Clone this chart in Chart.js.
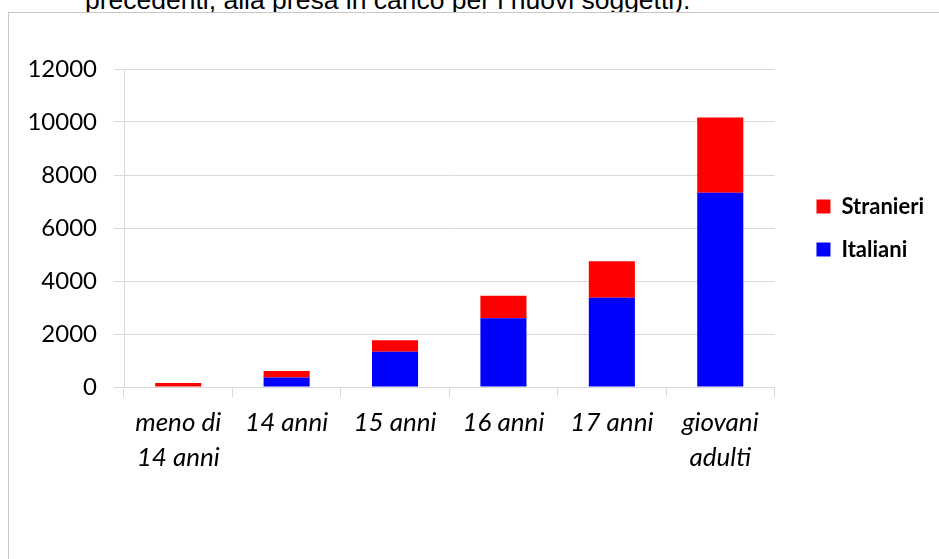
<!DOCTYPE html>
<html>
<head>
<meta charset="utf-8">
<script src="https://cdn.jsdelivr.net/npm/chart.js@4"></script>
<style>
    html, body { margin: 0; padding: 0; background: #fff; overflow: hidden; }
    #note {
        position: absolute; left: 85px; top: -13px; z-index: 0;
        font-family: "Liberation Sans", Arial, sans-serif; font-size: 26.5px;
        line-height: 1; color: #000; white-space: nowrap;
    }
    #frame {
        position: absolute; left: 8px; top: 12px; width: 960px; height: 580px; z-index: 1;
        background: #fff; border-left: 1px solid #c6c6c6; border-top: 1px solid #c6c6c6;
    }
    #chart { position: absolute; left: 0; top: 0; z-index: 2; }
</style>
</head>
<body>
<div id="note">precedenti, alla presa in carico per i nuovi soggetti).</div>
<div id="frame"></div>
<canvas id="chart" width="939" height="559"></canvas>
<script>
// Chart data
const categories = [['meno di', '14 anni'], '14 anni', '15 anni', '16 anni', '17 anni', ['giovani', 'adulti']];
const italiani = [0, 360, 1330, 2590, 3370, 7330];
const stranieri = [150, 240, 430, 850, 1380, 2840];
const yTicks = [0, 2000, 4000, 6000, 8000, 10000, 12000];

const gridColor = '#d9d9d9';

document.addEventListener('DOMContentLoaded', function() {
    const ctx = document.getElementById('chart').getContext('2d');
    new Chart(ctx, {
        type: 'bar',
        data: {
            labels: categories,
            datasets: [
                {
                    label: 'Italiani',
                    data: italiani,
                    backgroundColor: '#0000ff',
                    categoryPercentage: 1,
                    barPercentage: 0.425,
                },
                {
                    label: 'Stranieri',
                    data: stranieri,
                    backgroundColor: '#ff0000',
                    categoryPercentage: 1,
                    barPercentage: 0.425,
                },
            ],
        },
        options: {
            responsive: false,
            animation: false,
            layout: { padding: { left: 0, top: 69, right: 5, bottom: 0 } },
            scales: {
                x: {
                    stacked: true,
                    grid: { color: gridColor, drawOnChartArea: false, drawTicks: true, tickLength: 10, offset: true },
                    border: { color: gridColor },
                    ticks: {
                        color: '#000',
                        padding: 8,
                        maxRotation: 0,
                        font: { family: 'Lato', size: 26, style: 'italic', lineHeight: 35 / 26 },
                    },
                    afterFit: s => { s.height = 172; },
                },
                y: {
                    stacked: true,
                    min: 0,
                    max: 12000,
                    afterBuildTicks: s => { s.ticks = yTicks.map(v => ({ value: v })); },
                    grid: { color: gridColor, tickLength: 10 },
                    border: { color: gridColor },
                    ticks: {
                        color: '#000',
                        padding: 17,
                        font: { family: 'Lato', size: 24 },
                        callback: v => String(v),
                    },
                    afterFit: s => { s.width = 124; },
                },
                // empty spacer between plot and legend
                y2: {
                    position: 'right',
                    display: true,
                    grid: { drawOnChartArea: false, drawTicks: false },
                    border: { display: false },
                    ticks: { display: false },
                    afterFit: s => { s.width = 21; },
                },
            },
            plugins: {
                tooltip: { enabled: false },
                legend: {
                    position: 'right',
                    fullSize: false,
                    reverse: true,
                    labels: {
                        boxWidth: 14,
                        boxHeight: 14,
                        padding: 21,
                        color: '#000',
                        font: { family: 'Lato', size: 22, weight: 'bold' },
                    },
                },
            },
        },
    });
});
</script>
</body>
</html>
